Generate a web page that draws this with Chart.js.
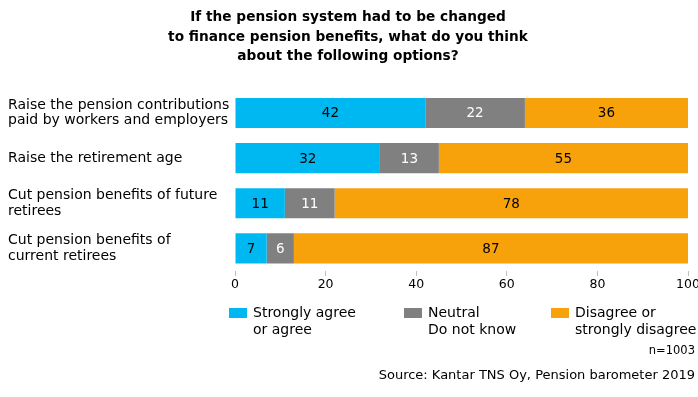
<!DOCTYPE html>
<html>
<head>
<meta charset="utf-8">
<script src="https://cdn.jsdelivr.net/npm/chart.js@4/dist/chart.umd.min.js"></script>
<style>
  html, body { margin: 0; padding: 0; background: #fff; }
  #wrap { width: 698px; height: 397px; }
</style>
</head>
<body>
<div id="wrap"><canvas id="chartCanvas"></canvas></div>
<script>
// --- data ---
const categories = [
  ["Raise the pension contributions", "paid by workers and employers"],
  ["Raise the retirement age"],
  ["Cut pension benefits of future", "retirees"],
  ["Cut pension benefits of", "current retirees"]
];
const agree = [42, 32, 11, 7];
const neutral = [22, 13, 11, 6];
const disagree = [36, 55, 78, 87];
const seriesLabels = [
  ["Strongly agree", "or agree"],
  ["Neutral", "Do not know"],
  ["Disagree or", "strongly disagree"]
];
const xTicks = [0, 20, 40, 60, 80, 100];
const titleLines = [
  "If the pension system had to be changed",
  "to finance pension benefits, what do you think",
  "about the following options?"
];
const sampleNote = "n=1003";
const sourceNote = "Source: Kantar TNS Oy, Pension barometer 2019";

const colors = ["#00B8F1", "#808080", "#F7A10B"];
const labelColors = ["#000", "#fff", "#000"];
const FONT = "'DejaVu Sans', Verdana, sans-serif";

// --- value labels inside the bars ---
const barValues = {
  id: "barValues",
  afterDatasetsDraw(chart) {
    const ctx = chart.ctx;
    ctx.save();
    ctx.font = "13.5px " + FONT;
    ctx.textAlign = "center";
    ctx.textBaseline = "middle";
    chart.data.datasets.forEach((ds, i) => {
      const meta = chart.getDatasetMeta(i);
      meta.data.forEach((bar, j) => {
        ctx.fillStyle = labelColors[i];
        ctx.fillText(ds.data[j], (bar.x + bar.base) / 2, bar.y + 1);
      });
    });
    ctx.restore();
  }
};

// --- legend with two-line labels + notes ---
const footer = {
  id: "footer",
  afterDraw(chart) {
    const ctx = chart.ctx;
    const area = chart.chartArea;
    const boxX = [area.left - 6, area.left + 169, area.left + 316];
    const top = 308;
    ctx.save();
    ctx.font = "14px " + FONT;
    ctx.textBaseline = "middle";
    ctx.textAlign = "left";
    seriesLabels.forEach((lines, i) => {
      ctx.fillStyle = colors[i];
      ctx.fillRect(boxX[i], top, 18, 10);
      ctx.fillStyle = "#000";
      lines.forEach((t, k) => ctx.fillText(t, boxX[i] + 24, top + 5 + k * 17));
    });
    ctx.textAlign = "right";
    ctx.font = "11.5px " + FONT;
    ctx.fillText(sampleNote, 695, 351);
    ctx.font = "13px " + FONT;
    ctx.fillText(sourceNote, 695, 376);
    ctx.restore();
  }
};

const canvas = document.getElementById("chartCanvas");
new Chart(canvas, {
  type: "bar",
  data: {
    labels: categories,
    datasets: [
      { label: seriesLabels[0].join(" "), data: agree, backgroundColor: colors[0] },
      { label: seriesLabels[1].join(" "), data: neutral, backgroundColor: colors[1] },
      { label: seriesLabels[2].join(" "), data: disagree, backgroundColor: colors[2] }
    ]
  },
  options: {
    indexAxis: "y",
    responsive: true,
    maintainAspectRatio: false,
    animation: false,
    layout: { padding: { left: 8, right: 10, top: 0, bottom: 104 } },
    datasets: { bar: { barPercentage: 0.667, categoryPercentage: 1 } },
    plugins: {
      legend: { display: false },
      tooltip: { enabled: false },
      title: {
        display: true,
        text: titleLines,
        color: "#000",
        font: { family: FONT, size: 13.7, weight: "bold", lineHeight: 1.42 },
        padding: { top: 8, bottom: 24 }
      }
    },
    scales: {
      x: {
        stacked: true,
        min: 0,
        max: 100,
        afterBuildTicks: s => { s.ticks = xTicks.map(v => ({ value: v })); },
        afterFit: s => { s.paddingRight = 0; s.paddingLeft = 0; },
        border: { display: false },
        grid: { drawOnChartArea: false, drawTicks: true, tickLength: 5, color: "#bfbfbf" },
        ticks: { color: "#000", padding: 1, font: { family: FONT, size: 12.5 } }
      },
      y: {
        stacked: true,
        border: { display: false },
        grid: { display: false },
        afterFit: s => { s.width = 227; },
        ticks: {
          color: "#000",
          crossAlign: "far",
          padding: 6,
          font: { family: FONT, size: 14, lineHeight: 1.1 }
        }
      }
    }
  },
  plugins: [barValues, footer]
});
</script>
</body>
</html>
